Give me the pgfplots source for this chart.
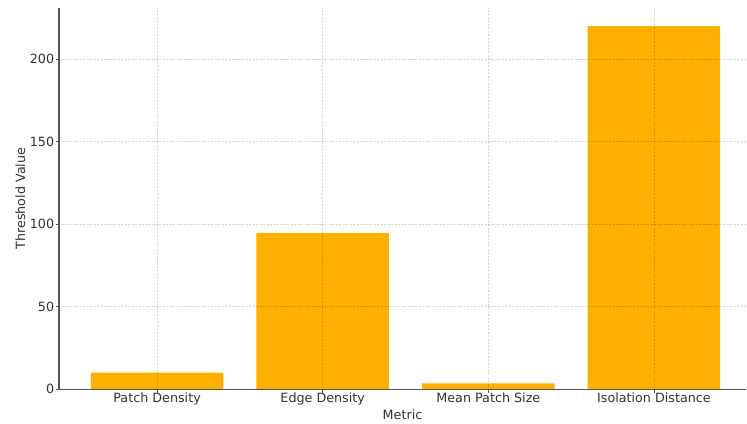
\documentclass[border=0pt]{standalone}
\usepackage{pgfplots}
\pgfplotsset{compat=1.18}
\usepackage{fontspec}
\setmainfont{DejaVu Sans}
\usetikzlibrary{calc}
\definecolor{barc}{HTML}{FFAF00}
\definecolor{txt}{HTML}{333333}
\definecolor{spine}{HTML}{555555}
\begin{document}
\begin{tikzpicture}
\begin{axis}[
  name=ax,
  scale only axis,
  width=494.6bp, height=274.3bp,
  xmin=-0.592, xmax=3.556,
  ymin=0, ymax=231,
  axis x line*=bottom, axis y line*=left,
  axis line style={spine, line width=0.8pt},
  xtick=data,
  xticklabels={Patch Density, Edge Density, Mean Patch Size, Isolation Distance},
  ytick={0,50,100,150,200},
  tick style={spine, line width=0.6pt},
  tick align=outside,
  major tick length=2.5pt,
  ticklabel style={font=\fontsize{9.2}{11}\selectfont, text=txt},
  xticklabel style={yshift=3pt},
  yticklabel style={xshift=2.5pt},
  /pgf/number format/assume math mode=true,
  xlabel={Metric}, ylabel={Threshold Value},
  label style={font=\fontsize{9.2}{11}\selectfont, text=txt},
  xlabel style={yshift=3.5pt},
  ylabel style={yshift=-3.5pt},
  grid=major,
  major grid style={dash pattern=on 1.5pt off 1pt, black, opacity=0.17, line width=0.4pt},
  axis on top,
  ybar, bar width=0.8,
  bar shift=0pt,
]
\addplot[fill=barc, draw=none] coordinates {(0,10) (1,94.5) (2,3.5) (3,220)};
\end{axis}
\pgfresetboundingbox
\path ($(ax.south west)+(-42.5bp,-24.5bp)$) rectangle ($(ax.north east)+(0.7bp,5.8bp)$);
\end{tikzpicture}
\end{document}
